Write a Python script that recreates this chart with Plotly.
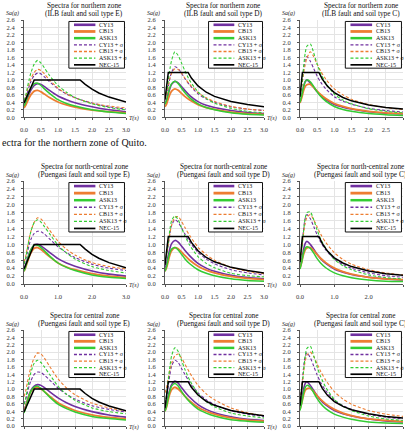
import plotly.graph_objects as go

# ---------------- DATA ----------------
T = [0, 0.05, 0.1, 0.15, 0.2, 0.3, 0.4, 0.5, 0.6, 0.75, 1.0, 1.25, 1.5, 2.0, 2.5, 3.0]

series_names = ["CY13", "CB13", "ASK13", "CY13 + σ", "CB13 + σ", "ASK13 + σ", "NEC-15"]

# Northern zone (ILB fault)
north_E_CY13 = [0.30, 0.38, 0.50, 0.62, 0.72, 0.85, 0.90, 0.88, 0.82, 0.72, 0.57, 0.47, 0.39, 0.28, 0.20, 0.15]
north_E_CB13 = [0.25, 0.32, 0.42, 0.52, 0.60, 0.70, 0.72, 0.68, 0.62, 0.53, 0.41, 0.33, 0.27, 0.19, 0.15, 0.12]
north_E_ASK13 = [0.30, 0.40, 0.55, 0.68, 0.78, 0.90, 0.91, 0.85, 0.76, 0.64, 0.47, 0.37, 0.30, 0.20, 0.14, 0.10]
north_E_CY13s = [0.40, 0.50, 0.66, 0.82, 0.95, 1.12, 1.18, 1.16, 1.08, 0.95, 0.76, 0.62, 0.52, 0.38, 0.28, 0.22]
north_E_CB13s = [0.45, 0.55, 0.72, 0.88, 1.02, 1.20, 1.28, 1.25, 1.16, 1.00, 0.78, 0.63, 0.52, 0.38, 0.30, 0.25]
north_E_ASK13s = [0.45, 0.58, 0.80, 1.00, 1.18, 1.42, 1.52, 1.45, 1.32, 1.12, 0.85, 0.67, 0.53, 0.36, 0.26, 0.20]

north_D_CY13 = [0.35, 0.45, 0.62, 0.78, 0.88, 0.96, 0.92, 0.82, 0.72, 0.58, 0.42, 0.32, 0.26, 0.18, 0.13, 0.10]
north_D_CB13 = [0.28, 0.36, 0.50, 0.62, 0.70, 0.76, 0.72, 0.64, 0.56, 0.46, 0.34, 0.26, 0.21, 0.14, 0.10, 0.08]
north_D_ASK13 = [0.35, 0.46, 0.65, 0.80, 0.90, 0.96, 0.90, 0.78, 0.66, 0.52, 0.36, 0.26, 0.20, 0.12, 0.08, 0.06]
north_D_CY13s = [0.45, 0.58, 0.82, 1.05, 1.20, 1.35, 1.30, 1.18, 1.04, 0.86, 0.63, 0.49, 0.40, 0.28, 0.22, 0.18]
north_D_CB13s = [0.48, 0.60, 0.85, 1.05, 1.18, 1.30, 1.28, 1.18, 1.05, 0.88, 0.66, 0.52, 0.42, 0.29, 0.22, 0.18]
north_D_ASK13s = [0.50, 0.68, 0.98, 1.30, 1.52, 1.75, 1.65, 1.45, 1.25, 0.98, 0.68, 0.50, 0.38, 0.24, 0.16, 0.12]

north_C_CY13 = [0.40, 0.58, 0.80, 0.95, 1.00, 0.92, 0.80, 0.68, 0.58, 0.47, 0.34, 0.27, 0.22, 0.15, 0.11, 0.09]
north_C_CB13 = [0.38, 0.52, 0.70, 0.82, 0.87, 0.88, 0.80, 0.70, 0.61, 0.50, 0.37, 0.29, 0.23, 0.16, 0.12, 0.10]
north_C_ASK13 = [0.40, 0.58, 0.80, 0.95, 1.00, 0.95, 0.82, 0.68, 0.56, 0.43, 0.29, 0.21, 0.16, 0.10, 0.07, 0.05]
north_C_CY13s = [0.55, 0.85, 1.25, 1.52, 1.62, 1.50, 1.30, 1.10, 0.94, 0.76, 0.55, 0.43, 0.35, 0.24, 0.18, 0.14]
north_C_CB13s = [0.55, 0.82, 1.15, 1.40, 1.58, 1.75, 1.62, 1.42, 1.24, 1.02, 0.76, 0.60, 0.48, 0.34, 0.26, 0.21]
north_C_ASK13s = [0.55, 0.85, 1.30, 1.70, 1.90, 1.96, 1.72, 1.42, 1.18, 0.92, 0.62, 0.46, 0.36, 0.23, 0.16, 0.12]

# North-central zone (Puengasi fault)
ncen_E_CY13 = [0.38, 0.48, 0.62, 0.76, 0.86, 0.98, 1.00, 0.96, 0.90, 0.80, 0.64, 0.53, 0.45, 0.33, 0.25, 0.20]
ncen_E_CB13 = [0.32, 0.42, 0.55, 0.68, 0.78, 0.90, 0.92, 0.87, 0.80, 0.69, 0.53, 0.43, 0.36, 0.26, 0.20, 0.16]
ncen_E_ASK13 = [0.32, 0.44, 0.60, 0.75, 0.86, 0.98, 0.98, 0.92, 0.84, 0.71, 0.53, 0.42, 0.34, 0.23, 0.17, 0.14]
ncen_E_CY13s = [0.50, 0.62, 0.80, 0.98, 1.12, 1.28, 1.33, 1.32, 1.26, 1.14, 0.94, 0.79, 0.67, 0.50, 0.40, 0.34]
ncen_E_CB13s = [0.55, 0.70, 0.92, 1.14, 1.32, 1.56, 1.67, 1.64, 1.54, 1.36, 1.08, 0.88, 0.73, 0.54, 0.44, 0.38]
ncen_E_ASK13s = [0.50, 0.66, 0.90, 1.12, 1.32, 1.55, 1.62, 1.56, 1.45, 1.27, 0.98, 0.78, 0.63, 0.44, 0.34, 0.28]

ncen_D_CY13 = [0.40, 0.52, 0.72, 0.90, 1.02, 1.10, 1.06, 0.96, 0.85, 0.71, 0.52, 0.40, 0.32, 0.22, 0.16, 0.13]
ncen_D_CB13 = [0.32, 0.42, 0.58, 0.74, 0.84, 0.92, 0.89, 0.81, 0.72, 0.60, 0.45, 0.35, 0.28, 0.19, 0.14, 0.11]
ncen_D_ASK13 = [0.32, 0.45, 0.64, 0.80, 0.88, 0.92, 0.86, 0.75, 0.64, 0.51, 0.36, 0.27, 0.21, 0.13, 0.09, 0.07]
ncen_D_CY13s = [0.55, 0.72, 1.00, 1.28, 1.48, 1.62, 1.56, 1.42, 1.27, 1.06, 0.80, 0.63, 0.51, 0.36, 0.28, 0.23]
ncen_D_CB13s = [0.58, 0.74, 1.02, 1.28, 1.48, 1.68, 1.70, 1.58, 1.43, 1.22, 0.93, 0.74, 0.60, 0.42, 0.32, 0.26]
ncen_D_ASK13s = [0.52, 0.72, 1.05, 1.38, 1.60, 1.72, 1.62, 1.42, 1.22, 0.98, 0.69, 0.52, 0.41, 0.27, 0.21, 0.18]

ncen_C_CY13 = [0.42, 0.60, 0.85, 1.02, 1.08, 1.00, 0.88, 0.75, 0.64, 0.52, 0.38, 0.30, 0.24, 0.17, 0.13, 0.10]
ncen_C_CB13 = [0.40, 0.55, 0.74, 0.86, 0.91, 0.92, 0.84, 0.74, 0.65, 0.54, 0.40, 0.31, 0.25, 0.17, 0.13, 0.11]
ncen_C_ASK13 = [0.38, 0.55, 0.78, 0.90, 0.94, 0.90, 0.78, 0.64, 0.53, 0.41, 0.28, 0.21, 0.16, 0.10, 0.07, 0.06]
ncen_C_CY13s = [0.60, 0.92, 1.35, 1.65, 1.75, 1.65, 1.45, 1.24, 1.06, 0.86, 0.63, 0.49, 0.40, 0.28, 0.21, 0.17]
ncen_C_CB13s = [0.60, 0.88, 1.25, 1.52, 1.68, 1.75, 1.62, 1.44, 1.26, 1.05, 0.79, 0.62, 0.50, 0.36, 0.28, 0.23]
ncen_C_ASK13s = [0.55, 0.85, 1.30, 1.65, 1.80, 1.82, 1.62, 1.36, 1.14, 0.90, 0.62, 0.46, 0.36, 0.23, 0.16, 0.13]

# Central zone (Puengasi fault)
cen_E_CY13 = [0.42, 0.55, 0.70, 0.85, 0.96, 1.08, 1.12, 1.10, 1.04, 0.93, 0.76, 0.63, 0.53, 0.39, 0.30, 0.24]
cen_E_CB13 = [0.40, 0.52, 0.68, 0.82, 0.93, 1.02, 1.05, 1.00, 0.93, 0.81, 0.63, 0.51, 0.42, 0.30, 0.23, 0.19]
cen_E_ASK13 = [0.35, 0.48, 0.66, 0.82, 0.94, 1.05, 1.08, 1.02, 0.93, 0.79, 0.59, 0.47, 0.38, 0.26, 0.20, 0.16]
cen_E_CY13s = [0.60, 0.72, 0.90, 1.08, 1.22, 1.40, 1.46, 1.45, 1.38, 1.25, 1.03, 0.86, 0.73, 0.55, 0.45, 0.38]
cen_E_CB13s = [0.80, 0.95, 1.18, 1.40, 1.58, 1.85, 1.98, 1.95, 1.84, 1.62, 1.28, 1.03, 0.85, 0.62, 0.49, 0.41]
cen_E_ASK13s = [0.58, 0.75, 1.00, 1.24, 1.44, 1.70, 1.78, 1.72, 1.60, 1.40, 1.08, 0.86, 0.70, 0.49, 0.39, 0.33]

cen_D_CY13 = [0.45, 0.60, 0.82, 1.00, 1.12, 1.22, 1.16, 1.04, 0.93, 0.78, 0.58, 0.45, 0.36, 0.25, 0.18, 0.15]
cen_D_CB13 = [0.40, 0.52, 0.72, 0.88, 0.98, 1.05, 1.00, 0.91, 0.81, 0.68, 0.51, 0.40, 0.32, 0.22, 0.16, 0.13]
cen_D_ASK13 = [0.40, 0.55, 0.78, 0.96, 1.08, 1.15, 1.08, 0.94, 0.81, 0.65, 0.46, 0.35, 0.27, 0.17, 0.13, 0.10]
cen_D_CY13s = [0.60, 0.80, 1.10, 1.40, 1.62, 1.78, 1.72, 1.56, 1.40, 1.18, 0.90, 0.71, 0.58, 0.41, 0.32, 0.26]
cen_D_CB13s = [0.90, 1.05, 1.30, 1.52, 1.70, 1.90, 1.95, 1.84, 1.68, 1.44, 1.10, 0.87, 0.71, 0.49, 0.36, 0.28]
cen_D_ASK13s = [0.60, 0.85, 1.25, 1.62, 1.90, 2.12, 2.02, 1.78, 1.54, 1.24, 0.88, 0.66, 0.52, 0.35, 0.27, 0.22]

cen_C_CY13 = [0.50, 0.72, 0.98, 1.15, 1.20, 1.10, 0.96, 0.82, 0.70, 0.57, 0.42, 0.33, 0.27, 0.19, 0.14, 0.11]
cen_C_CB13 = [0.45, 0.62, 0.82, 0.96, 1.01, 1.02, 0.93, 0.82, 0.72, 0.60, 0.45, 0.35, 0.28, 0.19, 0.15, 0.12]
cen_C_ASK13 = [0.42, 0.62, 0.88, 1.04, 1.10, 1.05, 0.90, 0.74, 0.61, 0.47, 0.32, 0.24, 0.18, 0.11, 0.08, 0.07]
cen_C_CY13s = [0.70, 1.05, 1.55, 1.88, 1.98, 1.85, 1.62, 1.38, 1.18, 0.96, 0.70, 0.55, 0.45, 0.31, 0.24, 0.19]
cen_C_CB13s = [0.70, 1.00, 1.42, 1.75, 1.92, 2.00, 1.88, 1.68, 1.48, 1.24, 0.93, 0.73, 0.59, 0.42, 0.32, 0.26]
cen_C_ASK13s = [0.60, 0.95, 1.45, 1.88, 2.10, 2.16, 1.90, 1.60, 1.34, 1.05, 0.72, 0.54, 0.42, 0.27, 0.19, 0.15]

# NEC-15 design spectra by soil type
nec_E_T = [0, 0.3, 1.65, 1.8, 2.0, 2.2, 2.5, 2.75, 3.0]
nec_E_Sa = [0.38, 1.0, 1.0, 0.88, 0.75, 0.65, 0.54, 0.47, 0.41]
nec_D_T = [0, 0.1, 0.7, 0.8, 1.0, 1.25, 1.5, 2.0, 2.5, 3.0]
nec_D_Sa = [0.48, 1.2, 1.2, 1.05, 0.84, 0.67, 0.56, 0.42, 0.34, 0.28]
nec_C_T = [0, 0.07, 0.55, 0.65, 0.8, 1.0, 1.25, 1.5, 2.0, 2.5, 3.0]
nec_C_Sa = [0.55, 1.2, 1.2, 1.02, 0.83, 0.66, 0.53, 0.44, 0.33, 0.26, 0.22]

title_line1 = ["Spectra for northern zone", "Spectra for north-central zone", "Spectra for central zone"]
fault_names = ["ILB", "Puengasi", "Puengasi"]
soil_types = ["E", "D", "C"]
x_dticks = [[0.5, 0.5, 0.5], [1.0, 0.5, 1.0], [0.5, 0.5, 0.5]]
y_ticks = [0.0, 0.2, 0.4, 0.6, 0.8, 1.0, 1.2, 1.4, 1.6, 1.8, 2.0, 2.2, 2.4, 2.6]
caption = "ectra for the northern zone of Quito."

panels = [
    [
        [north_E_CY13, north_E_CB13, north_E_ASK13, north_E_CY13s, north_E_CB13s, north_E_ASK13s],
        [north_D_CY13, north_D_CB13, north_D_ASK13, north_D_CY13s, north_D_CB13s, north_D_ASK13s],
        [north_C_CY13, north_C_CB13, north_C_ASK13, north_C_CY13s, north_C_CB13s, north_C_ASK13s],
    ],
    [
        [ncen_E_CY13, ncen_E_CB13, ncen_E_ASK13, ncen_E_CY13s, ncen_E_CB13s, ncen_E_ASK13s],
        [ncen_D_CY13, ncen_D_CB13, ncen_D_ASK13, ncen_D_CY13s, ncen_D_CB13s, ncen_D_ASK13s],
        [ncen_C_CY13, ncen_C_CB13, ncen_C_ASK13, ncen_C_CY13s, ncen_C_CB13s, ncen_C_ASK13s],
    ],
    [
        [cen_E_CY13, cen_E_CB13, cen_E_ASK13, cen_E_CY13s, cen_E_CB13s, cen_E_ASK13s],
        [cen_D_CY13, cen_D_CB13, cen_D_ASK13, cen_D_CY13s, cen_D_CB13s, cen_D_ASK13s],
        [cen_C_CY13, cen_C_CB13, cen_C_ASK13, cen_C_CY13s, cen_C_CB13s, cen_C_ASK13s],
    ],
]
nec = {"E": (nec_E_T, nec_E_Sa), "D": (nec_D_T, nec_D_Sa), "C": (nec_C_T, nec_C_Sa)}

# ---------------- STYLE / GEOMETRY ----------------
W, H = 405, 431
FONT = "Liberation Serif"
PURPLE, ORANGE, GREEN, BLACK = "#7030A0", "#ED7D31", "#33CC33", "#000000"
styles = [
    dict(color=PURPLE, width=1.6, dash="solid"),
    dict(color=ORANGE, width=1.8, dash="solid"),
    dict(color=GREEN, width=1.5, dash="solid"),
    dict(color=PURPLE, width=1.1, dash="3px,2px"),
    dict(color=ORANGE, width=1.1, dash="3px,2px"),
    dict(color=GREEN, width=1.1, dash="3px,2px"),
    dict(color=BLACK, width=1.5, dash="solid"),
]

# plot rectangles in page pixels
cols_px = [(24, 126), (165, 264), (300, 403)]
rows_px = [(20, 117.3), (181, 284), (330, 426)]


def fx(px):
    return px / W


def fy(py):
    return 1 - py / H


fig = go.Figure()
layout = dict(
    width=W, height=H,
    margin=dict(l=0, r=0, t=0, b=0, autoexpand=False),
    paper_bgcolor="white", plot_bgcolor="white",
    showlegend=False,
    font=dict(family=FONT, size=7, color="#222"),
)
annotations = []
shapes = []

for r in range(3):
    for c in range(3):
        k = r * 3 + c + 1
        sfx = "" if k == 1 else str(k)
        xname, yname = "x" + sfx, "y" + sfx
        x0p, x1p = cols_px[c]
        y0p, y1p = rows_px[r]
        layout["xaxis" + sfx] = dict(
            domain=[fx(x0p), fx(x1p)], anchor=yname, range=[0, 3.0],
            dtick=x_dticks[r][c], tick0=0, tickformat=".1f",
            showline=True, linecolor="#555", linewidth=1,
            ticks="outside", ticklen=2, tickcolor="#555",
            showgrid=True, gridcolor="#E4E4E4", gridwidth=0.6,
            zeroline=False, automargin=False,
            showticklabels=(r < 2),
            tickfont=dict(family=FONT, size=6.5, color="#333"),
            ticklabelstandoff=4,
        )
        layout["yaxis" + sfx] = dict(
            domain=[fy(y1p), fy(y0p)], anchor=xname, range=[0, 2.6],
            tickvals=y_ticks, tickformat=".1f",
            showline=True, linecolor="#555", linewidth=1,
            ticks="outside", ticklen=2, tickcolor="#555",
            showgrid=True, gridcolor="#E4E4E4", gridwidth=0.6,
            zeroline=False, automargin=False,
            tickfont=dict(family=FONT, size=6.5, color="#333"),
            ticklabelstandoff=5,
        )
        soil = soil_types[c]
        curves = panels[r][c]
        for i, yv in enumerate(curves):
            fig.add_trace(go.Scatter(
                x=T, y=yv, mode="lines", xaxis=xname, yaxis=yname,
                line=dict(shape="spline", smoothing=0.7, **styles[i]),
                name=series_names[i], hoverinfo="skip",
            ))
        nt, ns = nec[soil]
        fig.add_trace(go.Scatter(
            x=nt, y=ns, mode="lines", xaxis=xname, yaxis=yname,
            line=styles[6], name=series_names[6], hoverinfo="skip",
        ))

        # two-line title
        cx = (x0p + x1p) / 2 + 9
        line2 = "(" + fault_names[r] + " fault and soil type " + soil + ")"
        for txt, dy in ((title_line1[r], 14.5), (line2, 6.8)):
            annotations.append(dict(
                text=txt, x=fx(cx), y=fy(y0p - dy), xref="paper", yref="paper",
                xanchor="center", yanchor="middle", showarrow=False,
                font=dict(family=FONT, size=7.3, color="#111"),
            ))
        annotations.append(dict(
            text="<i>Sa(g)</i>", x=fx(x0p - 20), y=fy(y0p - 6),
            xref="paper", yref="paper",
            xanchor="left", yanchor="middle", showarrow=False,
            font=dict(family=FONT, size=6, color="#222"),
        ))
        if x1p + 12 <= W:
            annotations.append(dict(
                text="<i>T(s)</i>", x=fx(x1p + 1), y=fy(min(y1p + 1, H - 4)),
                xref="paper", yref="paper",
                xanchor="left", yanchor="middle", showarrow=False,
                font=dict(family=FONT, size=6, color="#222"),
            ))

        # legend box
        pw, ph = x1p - x0p, y1p - y0p
        bx0, bx1 = x0p + 0.44 * pw, x0p + 0.985 * pw
        by0, by1 = y0p + 0.015 * ph, y0p + 0.495 * ph
        shapes.append(dict(type="rect", xref="paper", yref="paper",
                           x0=fx(bx0), x1=fx(bx1), y0=fy(by1), y1=fy(by0),
                           line=dict(color="#111", width=1), fillcolor="white", layer="above"))
        step = (by1 - by0) / 7
        for i in range(7):
            yy = by0 + (i + 0.5) * step
            st = styles[i]
            lw = st["width"] + (1.0 if i < 3 else 0.2)
            shapes.append(dict(type="line", xref="paper", yref="paper",
                               x0=fx(x0p + 0.49 * pw), x1=fx(x0p + 0.70 * pw),
                               y0=fy(yy), y1=fy(yy),
                               line=dict(color=st["color"], width=lw, dash=st["dash"]),
                               layer="above"))
            annotations.append(dict(
                text=series_names[i], x=fx(x0p + 0.715 * pw), y=fy(yy),
                xref="paper", yref="paper",
                xanchor="left", yanchor="middle", showarrow=False,
                font=dict(family=FONT, size=6, color="#111"),
            ))

annotations.append(dict(
    text=caption, x=0, y=fy(142), xref="paper", yref="paper",
    xanchor="left", yanchor="middle", showarrow=False,
    font=dict(family=FONT, size=10, color="#111"),
))

layout["annotations"] = annotations
layout["shapes"] = shapes
fig.update_layout(**layout)
fig.write_html("out.html")
